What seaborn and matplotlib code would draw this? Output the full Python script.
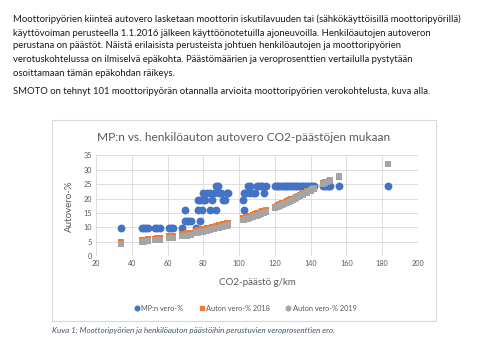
import matplotlib
matplotlib.use("Agg")
import matplotlib.pyplot as plt
from matplotlib.lines import Line2D
from matplotlib.patches import Rectangle
import seaborn as sns
import pandas as pd

# ---- data ----
co2 = [34, 46, 47, 48, 49, 53, 54, 56, 61, 62, 63, 68, 70, 70, 71, 72, 73,
       76, 77, 77, 78, 78, 79, 80, 80, 81, 82, 84, 84, 85, 86, 87, 87, 88,
       89, 90, 91, 92, 93, 94, 102, 103, 103, 104, 105, 106, 106, 108, 109,
       110, 111, 112, 113, 114, 115, 120, 121, 122, 123, 124, 125, 126, 127,
       128, 129, 130, 131, 132, 133, 134, 135, 136, 137, 138, 139, 140, 141,
       142, 147, 148, 149, 150, 151, 156, 183]
mp_vero = [9.8, 9.8, 9.8, 9.8, 9.8, 9.8, 9.8, 9.8, 9.8, 9.8, 9.8, 9.8, 15.9,
           12.3, 12.3, 12.3, 12.3, 9.8, 15.9, 19.6, 12.3, 19.6, 15.9, 21.9,
           19.6, 19.6, 21.9, 21.9, 15.9, 19.6, 21.9, 24.5, 15.9, 24.5, 21.9,
           21.9, 19.6, 19.6, 21.9, 21.9, 19.6, 15.9, 21.9, 21.9, 24.5, 24.5,
           21.9, 21.9, 21.9, 24.5, 24.5, 24.5, 24.5, 21.9, 24.5, 24.5, 24.5,
           24.5, 24.5, 24.5, 24.5, 24.5, 24.5, 24.5, 24.5, 24.5, 24.5, 24.5,
           24.5, 24.5, 24.5, 24.5, 24.5, 24.5, 24.5, 24.5, 24.5, 24.5, 24.5,
           24.5, 24.5, 24.5, 24.5, 24.5, 24.5]
auto_2018 = [4.8, 5.5, 5.6, 5.7, 5.8, 6.0, 6.1, 6.3, 6.9, 7.0, 7.1, 7.6, 7.8,
             7.8, 7.9, 8.0, 8.1, 8.7, 8.9, 8.9, 9.0, 9.0, 9.2, 9.3, 9.3, 9.5,
             9.6, 9.9, 9.9, 10.1, 10.2, 10.4, 10.4, 10.5, 10.7, 10.9, 11.0,
             11.2, 11.4, 11.6, 13.1, 13.3, 13.3, 13.5, 13.7, 13.9, 13.9, 14.3,
             14.6, 14.8, 15.0, 15.2, 15.5, 15.7, 15.9, 17.2, 17.5, 17.7, 18.0,
             18.3, 18.6, 18.8, 19.1, 19.4, 19.7, 20.0, 20.3, 20.6, 20.9, 21.2,
             21.5, 21.8, 22.1, 22.5, 22.8, 23.1, 23.4, 23.7, 25.3, 25.6, 25.9,
             26.2, 26.5, 27.6, 32.0]
auto_2019 = [4.2, 4.9, 5.0, 5.1, 5.2, 5.4, 5.5, 5.6, 6.1, 6.2, 6.3, 6.8, 7.0,
             7.0, 7.1, 7.2, 7.3, 7.9, 8.1, 8.1, 8.2, 8.2, 8.4, 8.5, 8.5, 8.7,
             8.8, 9.1, 9.1, 9.3, 9.4, 9.6, 9.6, 9.7, 9.9, 10.1, 10.2, 10.4,
             10.6, 10.8, 12.4, 12.6, 12.6, 12.8, 13.0, 13.2, 13.2, 13.6, 13.9,
             14.1, 14.3, 14.5, 14.8, 15.0, 15.2, 16.6, 16.9, 17.1, 17.4, 17.7,
             18.0, 18.3, 18.6, 18.9, 19.2, 19.5, 19.8, 20.1, 20.5, 20.8, 21.1,
             21.4, 21.8, 22.1, 22.5, 22.8, 23.2, 23.5, 25.1, 25.4, 25.8, 26.1,
             26.4, 27.7, 32.1]
x_ticks = [20, 40, 60, 80, 100, 120, 140, 160, 180, 200]
y_ticks = [0, 5, 10, 15, 20, 25, 30, 35]
series_names = ["MP:n vero-%", "Auton vero-% 2018", "Auton vero-% 2019"]

paragraph = [
    "Moottoripyörien kiinteä autovero lasketaan moottorin iskutilavuuden tai (sähkökäyttöisillä moottoripyörillä)",
    "käyttövoiman perusteella 1.1.2016 jälkeen käyttöönotetuilla ajoneuvoilla. Henkilöautojen autoveron",
    "perustana on päästöt. Näistä erilaisista perusteista johtuen henkilöautojen ja moottoripyörien",
    "verotuskohtelussa on ilmiselvä epäkohta. Päästömäärien ja veroprosenttien vertailulla pystytään",
    "osoittamaan tämän epäkohdan räikeys.",
]
paragraph2 = "SMOTO on tehnyt 101 moottoripyörän otannalla arvioita moottoripyörien verokohtelusta, kuva alla."
title = "MP:n vs. henkilöauton autovero CO2-päästöjen mukaan"
xlabel = "CO2-päästö g/km"
ylabel = "Autovero-%"
caption = "Kuva 1: Moottoripyörien ja henkilöauton päästöihin perustuvien veroprosenttien ero."

df = pd.DataFrame({"co2": co2, "mp": mp_vero, "a18": auto_2018, "a19": auto_2019})

# ---- style ----
sns.set_theme(style="white")
FONT = ["Lato", "DejaVu Sans"]
plt.rcParams["font.family"] = FONT

BLUE = "#4472C4"
ORANGE = "#ED7D31"
GRAY = "#A5A5A5"
TXT = "#595959"

fig = plt.figure(figsize=(4.78, 3.59), dpi=100)
fig.patch.set_facecolor("white")

# chart frame
frame = Rectangle((0.1088, 0.1058), 0.8033, 0.5599, transform=fig.transFigure,
                  facecolor="white", edgecolor="#D9D9D9", lw=0.8, zorder=-5)
fig.patches.append(frame)

ax = fig.add_axes([0.2008, 0.2869, 0.6736, 0.2800])
ax.set_zorder(2)
ax.set_facecolor("none")

sns.scatterplot(data=df, x="co2", y="mp", ax=ax, color=BLUE, marker="o", s=32,
                linewidth=0, zorder=3, legend=False)
sns.scatterplot(data=df, x="co2", y="a18", ax=ax, color=ORANGE, marker="s", s=17,
                linewidth=0, zorder=4, legend=False)
sns.scatterplot(data=df, x="co2", y="a19", ax=ax, color=GRAY, marker="s", s=17,
                linewidth=0, zorder=5, legend=False)

ax.set_xlim(20, 200)
ax.set_ylim(0, 35)
ax.set_xticks(x_ticks)
ax.set_yticks(y_ticks)
ax.grid(True, color="#D9D9D9", lw=0.6)
ax.set_axisbelow(True)
for sp in ax.spines.values():
    sp.set_visible(False)
ax.tick_params(axis="both", length=0, labelsize=5.2, labelcolor=TXT, pad=3)
ax.set_xlabel("")
ax.set_ylabel("")

fig.text(0.510, 0.6156, title, ha="center", va="center", fontsize=8.6, color=TXT, zorder=3)
fig.text(0.538, 0.2117, xlabel, ha="center", va="center", fontsize=7.0, color=TXT, zorder=3)
fig.text(0.146, 0.4267, ylabel, ha="center", va="center", rotation=90, fontsize=7.0,
         color=TXT, zorder=3)

handles = [
    Line2D([], [], marker="o", color=BLUE, linestyle="none", markersize=3.3),
    Line2D([], [], marker="s", color=ORANGE, linestyle="none", markersize=3.3),
    Line2D([], [], marker="o", color=GRAY, linestyle="none", markersize=3.3),
]
leg = fig.legend(handles, series_names, loc="center", bbox_to_anchor=(0.512, 0.142), ncol=3,
                 frameon=False, fontsize=5.3, handletextpad=0.1, columnspacing=2.0,
                 handlelength=1.0)
leg.set_zorder(3)
for t in leg.get_texts():
    t.set_color(TXT)

# surrounding document text
ys = [19, 33, 46, 59, 73]
for line, y in zip(paragraph, ys):
    fig.text(0.027, 1 - y / 359, line, ha="left", va="center", fontsize=6.8, color="#1a1a1a")
fig.text(0.027, 1 - 91 / 359, paragraph2, ha="left", va="center", fontsize=6.8, color="#1a1a1a")
fig.text(0.1088, 1 - 331 / 359, caption, ha="left", va="center", fontsize=5.8,
         style="italic", color="#44546A")

fig.savefig("out.png", dpi=100, facecolor="white")
